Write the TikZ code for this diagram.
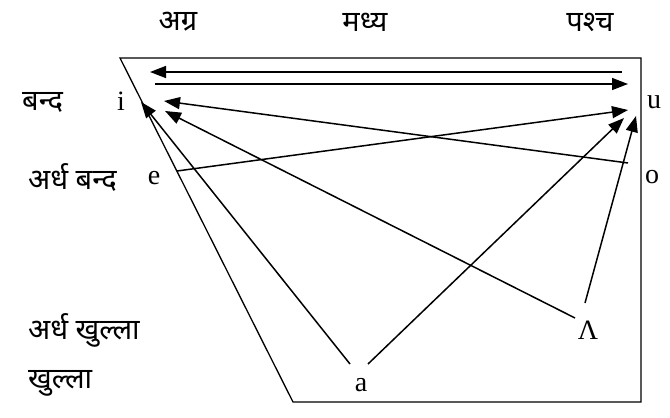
\documentclass[tikz,border=0pt]{standalone}
\usepackage{fontspec}
\setmainfont{Liberation Serif}
\newfontfamily\devfont[Script=Devanagari]{Noto Sans}
\usetikzlibrary{arrows.meta}
\tikzset{
  conn/.style={line width=1.5pt,-{Triangle[length=16pt,width=12pt]}},
  frame/.style={line width=1.3pt},
  lat/.style={font=\fontsize{28}{32}\selectfont,inner sep=0pt},
  dev/.style={font=\devfont\fontsize{29}{32}\selectfont,inner sep=0pt},
}
\begin{document}
\begin{tikzpicture}[x=1pt,y=-1pt]
\useasboundingbox (0,0) rectangle (670,418);
% frame
\draw[frame] (120,58) -- (641,58) -- (641,402) -- (293,402) -- cycle;
% column labels
\node[dev] (front) at (178,22) {अग्र};
\node[dev] (mid) at (365,22) {मध्य};
\node[dev] (back) at (590,22) {पश्च};
% row labels
\node[dev,anchor=west] (close) at (22,102) {बन्द};
\node[dev,anchor=west] (hclose) at (28,177) {अर्ध बन्द};
\node[dev,anchor=west] (hopen) at (28,330) {अर्ध खुल्ला};
\node[dev,anchor=west] (open) at (28,383) {खुल्ला};
% vowels
\node[lat] (i) at (121,101) {i};
\node[lat] (e) at (154,178) {e};
\node[lat] (u) at (654,102) {u};
\node[lat] (o) at (652,177) {o};
\node[lat] (a) at (361,385) {a};
\node[lat] (L) at (588,330) {Λ};
% connector end points
\coordinate (t1s) at (622,72);  \coordinate (t1e) at (150,72);
\coordinate (t2s) at (155,84);  \coordinate (t2e) at (628,84);
\coordinate (os) at (628,163);  \coordinate (oe) at (164,101);
\coordinate (es) at (177,171);  \coordinate (ee) at (628,110);
\coordinate (als) at (350,364); \coordinate (ale) at (141,102);
\coordinate (ars) at (368,364); \coordinate (are) at (624,118);
\coordinate (Lls) at (575,318); \coordinate (Lle) at (165,111);
\coordinate (Lrs) at (585,303); \coordinate (Lre) at (636,116);
% connectors
\draw[conn] (t1s) -- (t1e);
\draw[conn] (t2s) -- (t2e);
\draw[conn] (os) -- (oe);
\draw[conn] (es) -- (ee);
\draw[conn] (als) -- (ale);
\draw[conn] (ars) -- (are);
\draw[conn] (Lls) -- (Lle);
\draw[conn] (Lrs) -- (Lre);
\end{tikzpicture}
\end{document}
